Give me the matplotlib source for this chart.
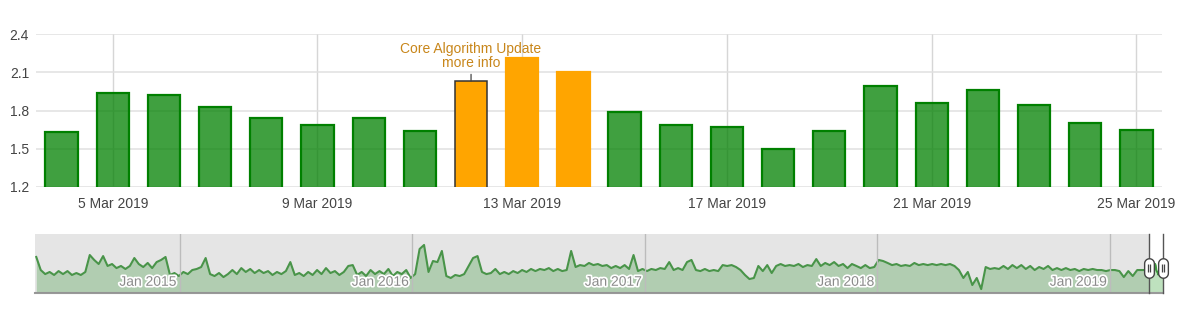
import matplotlib
matplotlib.use('Agg')
import matplotlib.pyplot as plt
import matplotlib.dates as mdates
import matplotlib.patheffects as pe
from matplotlib.path import Path
import numpy as np
import pandas as pd

plt.rcParams['font.family'] = ['Liberation Sans', 'DejaVu Sans']

# ---------------- data ----------------
bar_dates = pd.date_range('2019-03-04', '2019-03-25', freq='D')
bar_values = [1.63, 1.94, 1.92, 1.83, 1.74, 1.69, 1.74, 1.64,
              2.03, 2.21, 2.10,
              1.79, 1.69, 1.67, 1.50, 1.64, 1.99, 1.86, 1.96, 1.84, 1.70, 1.65]
highlight_dates = ['2019-03-12', '2019-03-13', '2019-03-14']
annotated_date = '2019-03-12'
annotation_text = 'Core Algorithm Update\nmore info'
x_tick_dates = pd.date_range('2019-03-05', '2019-03-25', freq='4D')
y_ticks = [1.2, 1.5, 1.8, 2.1, 2.4]

nav_weekly_start = '2014-05-21'
nav_weekly_values = [
    2.67, 1.8, 1.53, 1.67, 1.47, 1.73, 1.53, 1.73, 1.47, 1.6,
    1.47, 1.67, 2.8, 2.47, 2.2, 2.73, 2.07, 2.2, 1.93, 2.07,
    1.87, 2.07, 2.6, 2.2, 2.0, 2.27, 1.93, 2.33, 2.47, 2.67,
    1.47, 1.6, 1.4, 1.67, 1.53, 1.8, 1.87, 2.0, 2.6, 1.53,
    1.4, 1.6, 1.33, 1.53, 1.8, 1.53, 1.93, 1.67, 1.87, 1.6,
    1.8, 1.6, 1.73, 1.47, 1.67, 1.53, 1.73, 2.33, 1.47, 1.6,
    1.4, 1.67, 1.47, 1.8, 1.53, 1.93, 1.6, 1.73, 1.47, 1.67,
    2.07, 2.13, 1.47, 1.67, 1.4, 1.8, 1.53, 1.73, 1.53, 1.87,
    1.4, 1.67, 1.53, 1.8, 1.27, 1.53, 3.2, 3.47, 1.67, 2.4,
    2.33, 3.07, 1.4, 1.27, 1.47, 1.4, 1.53, 2.07, 2.6, 2.73,
    1.67, 1.53, 1.6, 1.87, 1.53, 1.67, 1.53, 1.73, 1.6, 1.8,
    1.67, 1.87, 1.73, 1.87, 1.8, 1.93, 1.73, 1.87, 1.73, 1.8,
    3.07, 2.0, 2.13, 2.07, 2.27, 2.13, 2.2, 2.07, 2.13, 1.93,
    2.07, 1.93, 2.13, 1.87, 2.8, 1.73, 1.87, 1.73, 1.87, 1.8,
    1.93, 1.87, 2.33, 1.8, 1.93, 1.8, 2.33, 2.47, 1.8, 1.73,
    1.87, 1.73, 1.8, 1.73, 2.13, 2.07, 2.13, 2.0, 1.8, 1.47,
    1.2, 1.27, 2.07, 1.73, 2.13, 1.6, 2.07, 2.2, 2.07, 2.13,
    2.07, 2.2, 2.0, 2.13, 2.07, 2.53, 2.07, 2.27, 2.13, 2.33,
    2.07, 2.2, 1.93, 2.2, 2.07, 1.93, 2.13, 1.93, 2.0, 2.47,
    2.4, 2.27, 2.13, 2.2, 2.07, 2.13, 2.07, 2.27, 2.13, 2.2,
    2.13, 2.2, 2.13, 2.2, 2.13, 2.2, 2.07, 1.8, 1.27, 1.67,
    0.8, 1.27, 0.53, 2.0, 1.87, 1.93, 1.87, 2.07, 1.87, 2.13,
    1.93, 2.13, 1.87, 2.07, 1.8, 2.0, 1.87, 2.07, 1.8, 1.93,
    1.8, 1.93, 1.8, 1.87, 1.73, 1.87, 1.8, 1.87, 1.8, 1.8,
    1.73, 1.8, 1.8, 1.73, 1.33, 1.73, 1.4, 1.8, 1.8, 1.8,
]
nav_year_ticks = pd.to_datetime(['2015-01-01', '2016-01-01', '2017-01-01',
                                 '2018-01-01', '2019-01-01'])
nav_year_labels = ['Jan 2015', 'Jan 2016', 'Jan 2017', 'Jan 2018', 'Jan 2019']
nav_start = '2014-05-19'

# ---------------- figure ----------------
W, H = 1200, 309
fig = plt.figure(figsize=(W / 100, H / 100), dpi=100)
fig.patch.set_facecolor('white')

ax = fig.add_axes([36 / W, 1 - 187 / H, (1162 - 36) / W, (187 - 34) / H])
xb = mdates.date2num(bar_dates)
hl = set(pd.to_datetime(highlight_dates))
face = [(1.0, 0.647, 0.0, 1.0) if d in hl else (0.0, 0.5, 0.0, 0.75) for d in bar_dates]
edge = ['#FFA500' if d in hl else '#008000' for d in bar_dates]
bars = ax.bar(xb, bar_values, width=0.63, bottom=0, color=face, edgecolor=edge,
              linewidth=1.6, zorder=3)
ai = list(bar_dates).index(pd.Timestamp(annotated_date))
bars[ai].set_edgecolor('#333333')
bars[ai].set_linewidth(1.1)

ax.set_xlim(xb[0] - 0.5, xb[-1] + 0.5)
ax.set_ylim(1.2, 2.4)
ax.set_yticks(y_ticks)
ax.set_yticklabels([f'{v:.1f}' for v in y_ticks])
xt = mdates.date2num(x_tick_dates)
ax.set_xticks(xt)
ax.set_xticklabels([f"{d.day} {d.strftime('%b %Y')}" for d in x_tick_dates])
ax.tick_params(axis='both', length=0, labelsize=10, colors='#444444')
ax.tick_params(axis='x', pad=7)
ax.tick_params(axis='y', pad=5)
for s in ax.spines.values():
    s.set_visible(False)
ax.grid(axis='y', color='#e0e0e0', linewidth=1.1, zorder=0)
ax.grid(axis='x', color='#d6d6d6', linewidth=1.0, zorder=0)
ax.set_axisbelow(True)

ax.annotate(annotation_text, xy=(xb[ai], bar_values[ai]), xytext=(0, 11),
            textcoords='offset pixels', ha='center', va='bottom',
            fontsize=10, color='#c8861a', linespacing=1.0,
            arrowprops=dict(arrowstyle='-', color='#444444', lw=0.9,
                            shrinkA=1, shrinkB=0), zorder=5)

# ---------------- navigator ----------------
nax = fig.add_axes([35 / W, 1 - 293 / H, (1163 - 35) / W, (293 - 234) / H])
nav_dates = list(pd.date_range(nav_weekly_start, periods=len(nav_weekly_values), freq='7D')) + list(bar_dates)
nav_values = list(nav_weekly_values) + list(bar_values)
xn = mdates.date2num(pd.to_datetime(nav_dates))
x0 = mdates.date2num(pd.Timestamp(nav_start))
x1 = xb[-1] + 0.5
nax.set_xlim(x0, x1)
nax.set_ylim(0.27, 4.2)
nax.set_facecolor('white')
nax.fill_between(xn, 0, nav_values, color='#a8d8a8', alpha=0.75, lw=0, zorder=1)
nax.plot(xn, nav_values, color='#3c9a3c', lw=1.5, zorder=2)

sel_left = xb[0] - 0.5
sel_right = xb[-1] + 0.5
nax.axvspan(x0, sel_left, color=(0.5, 0.5, 0.5), alpha=0.2, lw=0, zorder=3)

yt = mdates.date2num(nav_year_ticks)
for x, lab in zip(yt, nav_year_labels):
    nax.axvline(x, color='#cccccc', lw=1.0, zorder=2.5)
    nax.annotate(lab, xy=(x, 0.19), xycoords=nax.get_xaxis_transform(),
                 xytext=(-3, 0), textcoords='offset pixels', ha='right', va='center',
                 fontsize=10, color='#8a8a8a', zorder=6,
                 path_effects=[pe.withStroke(linewidth=2.5, foreground='white')])

nax.set_xticks([])
nax.set_yticks([])
for k, s in nax.spines.items():
    s.set_visible(k == 'bottom')
nax.spines['bottom'].set_color('#999999')
nax.spines['bottom'].set_linewidth(1.5)

# handles
for hx in (sel_left, sel_right):
    nax.plot([hx, hx], [0.27, 4.2], color='#555555', lw=1.0, zorder=7, clip_on=False)
t = np.linspace(0, np.pi, 20)
r = 0.25
top = np.column_stack([r * np.cos(t), 0.5 - r + r * np.sin(t)])
bot = np.column_stack([-r * np.cos(t), -(0.5 - r) - r * np.sin(t)])
cap = np.vstack([top, bot, top[:1]])
cap_marker = Path(cap, closed=True)
grip = Path([(-0.35, -1), (-0.35, 1), (0.35, -1), (0.35, 1)],
            [Path.MOVETO, Path.LINETO, Path.MOVETO, Path.LINETO])
hy = 1.95
for hx in (sel_left, sel_right):
    nax.plot([hx], [hy], marker=cap_marker, markersize=14, markerfacecolor='white',
             markeredgecolor='#444444', markeredgewidth=1.0, zorder=8, clip_on=False)
    nax.plot([hx], [hy], marker=grip, markersize=5.5, markerfacecolor='none',
             markeredgecolor='#444444', markeredgewidth=0.9, zorder=9, clip_on=False)

fig.savefig('out.png', dpi=100)
